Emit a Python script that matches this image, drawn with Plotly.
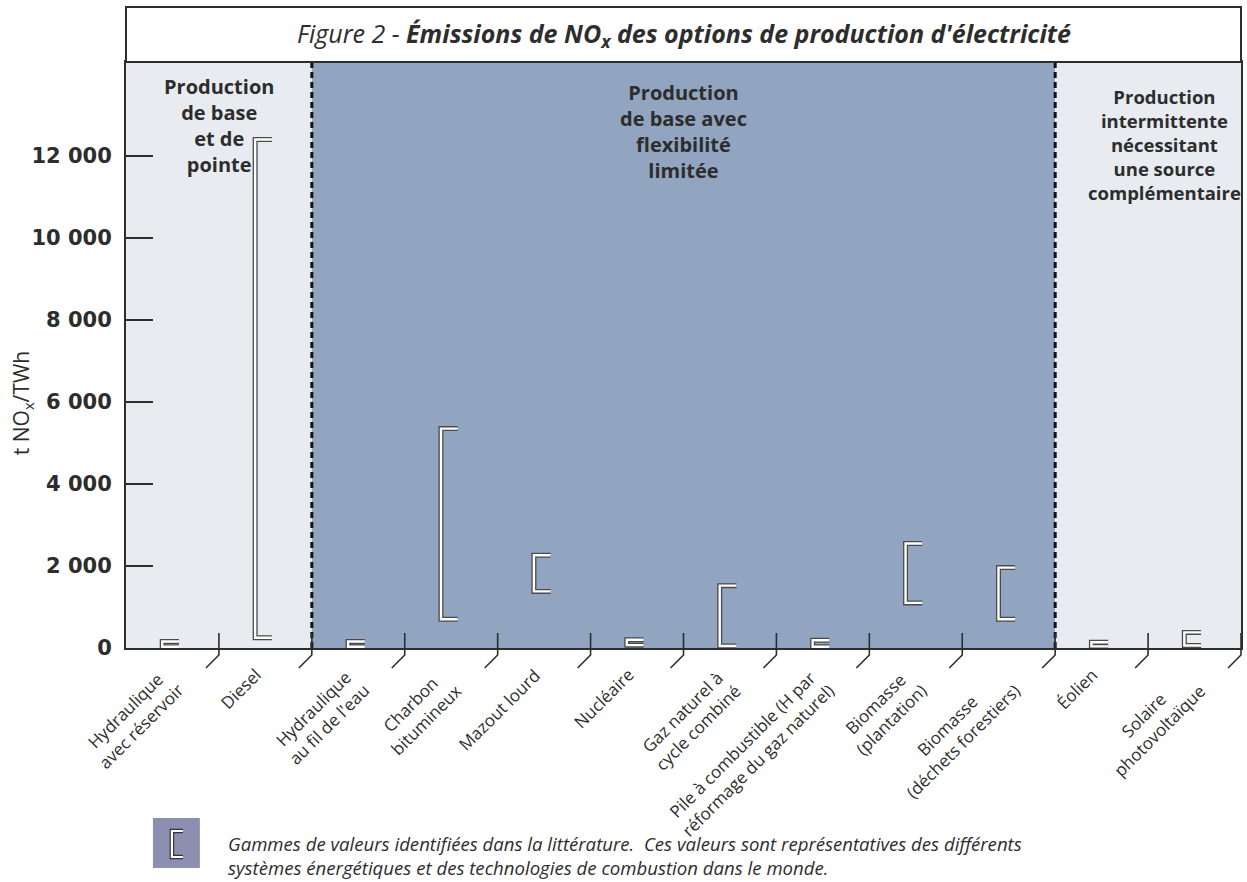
import plotly.graph_objects as go

# Catégories (une par colonne) et gammes de valeurs (t NOx/TWh)
categories = [
    "Hydraulique<br>avec réservoir",
    "Diesel",
    "Hydraulique<br>au fil de l'eau",
    "Charbon<br>bitumineux",
    "Mazout lourd",
    "Nucléaire",
    "Gaz naturel à<br>cycle combiné",
    "Pile à combustible (H par<br>réformage du gaz naturel)",
    "Biomasse<br>(plantation)",
    "Biomasse<br>(déchets forestiers)",
    "Éolien",
    "Solaire<br>photovoltaïque",
]
nox_low = [30, 250, 30, 700, 1380, 70, 50, 30, 1100, 700, 40, 60]
nox_high = [160, 12400, 160, 5350, 2260, 200, 1520, 190, 2550, 1960, 140, 380]

y_ticks = [0, 2000, 4000, 6000, 8000, 10000, 12000]
y_ticktext = ["0", "2 000", "4 000", "6 000", "8 000", "10 000", "12 000"]

# Groupes de production (début, fin en indices de colonnes)
groups = [
    ("Production<br>de base<br>et de<br>pointe", 0, 2),
    ("Production<br>de base avec<br>flexibilité<br>limitée", 2, 10),
    ("Production<br>intermittente<br>nécessitant<br>une source<br>complémentaire", 10, 12),
]

LIGHT = "#e8ecf0"
DARK = "#91a4c0"
INK = "#2d2d2d"
W, H = 1247, 882
M = dict(l=126, r=4, t=7, b=234)
plot_h = H - M["t"] - M["b"]
pw = W - M["l"] - M["r"]
y_top = 14290
n = len(categories)
dom_top = 1 - 55 / plot_h  # le cadre du titre occupe le haut


def px_y(dy):
    # décalage vertical en pixels -> coordonnée papier
    return dy / plot_h


def lx(p):
    return (p - M["l"]) / pw


def ly(p):
    return (H - M["b"] - p) / plot_h


fig = go.Figure()

# Crochets : contour sombre puis trait blanc
bx, by = [], []
for i, (lo, hi) in enumerate(zip(nox_low, nox_high)):
    c = i + 0.5
    bx += [c + 0.07, c - 0.11, c - 0.11, c + 0.07, None]
    by += [hi, hi, lo, lo, None]
fig.add_trace(go.Scatter(x=bx, y=by, mode="lines", line=dict(color="#4a4a4a", width=5),
                         hoverinfo="skip", showlegend=False))
fig.add_trace(go.Scatter(x=bx, y=by, mode="lines", line=dict(color="white", width=2.4),
                         hoverinfo="skip", showlegend=False))

shapes = []
annotations = []
for label, a, b in groups:
    shapes.append(dict(type="rect", xref="x", yref="y domain", x0=a, x1=b, y0=0, y1=1,
                       fillcolor=DARK if b - a > 2 else LIGHT, line=dict(width=0), layer="below"))
for xv in (2, 10):
    shapes.append(dict(type="line", xref="x", yref="y domain", x0=xv, x1=xv, y0=0, y1=1,
                       line=dict(color="#111", width=3, dash="6px,4px")))

# Petits traits de séparation sous l'axe (vertical puis oblique)
for k in range(1, n + 1):
    xp = k / n
    shapes.append(dict(type="path", xref="paper", yref="paper",
                       path=f"M {xp},{px_y(15)} L {xp},{px_y(-7)} L {xp - 13 / pw},{px_y(-20)}",
                       line=dict(color=INK, width=1.6)))

# Cadre du titre
shapes.append(dict(type="rect", xref="paper", yref="paper", x0=0, x1=1, y0=dom_top, y1=1,
                   line=dict(color=INK, width=2), fillcolor="white"))

# Légende : carré foncé avec crochet
shapes.append(dict(type="rect", xref="paper", yref="paper", x0=lx(153), x1=lx(200), y0=ly(818), y1=ly(868),
                   fillcolor="#8d8fb0", line=dict(width=0)))
for col, wd in (("#333", 4.5), ("white", 2.2)):
    shapes.append(dict(type="path", xref="paper", yref="paper",
                       path=f"M {lx(183)},{ly(831)} L {lx(172)},{ly(831)} L {lx(172)},{ly(857)} L {lx(183)},{ly(857)}",
                       line=dict(color=col, width=wd)))

annotations.append(dict(
    xref="paper", yref="paper", x=0.5, y=(1 + dom_top) / 2, xanchor="center", yanchor="middle",
    text="<i>Figure 2 - <b>Émissions de NO<sub>x</sub> des options de production d'électricité</b></i>",
    showarrow=False, font=dict(family="Open Sans", size=25, color=INK)))

for label, a, b in groups:
    right = a == 10
    xc = (a + b) / 2 + (0.18 if right else 0)
    shift = {0: -9, 2: -15, 10: -20}[a]
    annotations.append(dict(xref="x", yref="y domain", x=xc, y=1, yshift=shift,
                            xanchor="center", yanchor="top", align="center", text=f"<b>{label}</b>",
                            showarrow=False,
                            font=dict(family="Open Sans", size=18.5 if right else 20, color=INK)))

for i, cat in enumerate(categories):
    off = 0.2 if "<br>" in cat else 0.04
    annotations.append(dict(xref="x", yref="paper", x=i + 0.5 + off, y=0, yshift=-13,
                            xanchor="right", yanchor="top", align="center", textangle=-45,
                            text=cat, showarrow=False,
                            font=dict(family="Open Sans", size=17, color=INK)))

# Titre de l'axe vertical
annotations.append(dict(xref="paper", yref="paper", x=lx(22), y=ly(403), xanchor="center", yanchor="middle",
                        textangle=-90, text="t NO<sub>x</sub>/TWh", showarrow=False,
                        font=dict(family="Open Sans", size=21, color=INK)))

annotations.append(dict(
    xref="paper", yref="paper", x=lx(226), y=ly(856), xanchor="left", yanchor="middle", align="left",
    text="<i>Gammes de valeurs identifiées dans la littérature.  Ces valeurs sont représentatives des différents"
         "<br>systèmes énergétiques et des technologies de combustion dans le monde.</i>",
    showarrow=False, font=dict(family="Open Sans", size=18.6, color=INK)))

fig.update_layout(
    width=W, height=H, margin=M,
    paper_bgcolor="white", plot_bgcolor="white",
    shapes=shapes, annotations=annotations, showlegend=False,
    xaxis=dict(range=[0, n], showticklabels=False, ticks="", showgrid=False, zeroline=False,
               showline=True, linecolor=INK, linewidth=2, mirror=True, fixedrange=True),
    yaxis=dict(range=[0, y_top], domain=[0, dom_top], tickmode="array", tickvals=y_ticks,
               ticktext=y_ticktext, ticks="inside", ticklen=27, tickwidth=1.6, tickcolor=INK,
               showgrid=False, zeroline=False, showline=True, linecolor=INK, linewidth=2, mirror=True,
               tickfont=dict(family="DejaVu Sans", size=21, weight="bold", color=INK),
               ticklabelstandoff=8),
)

# la page a une marge par défaut : on la retire pour que la figure occupe toute la fenêtre
fig.write_html("out.html", config={"displayModeBar": False},
               post_script="document.body.style.margin='0';")
